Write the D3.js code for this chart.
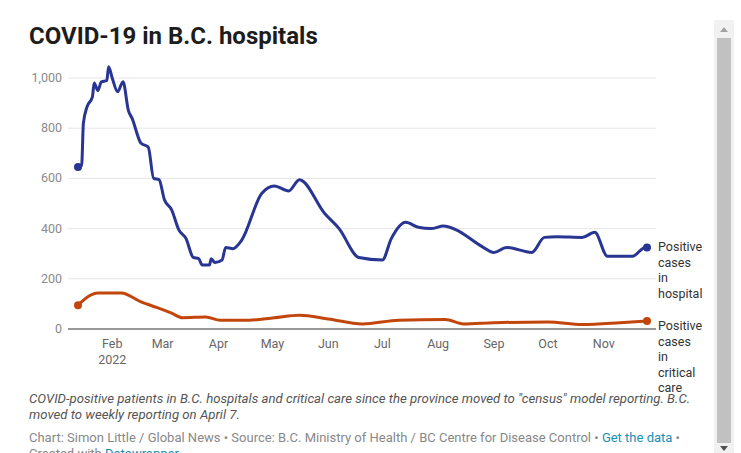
<!DOCTYPE html>
<html><head><meta charset="utf-8">
<script src="https://cdn.jsdelivr.net/npm/d3@7"></script>
<style>
body{margin:0;background:#fff;font-family:Roboto,sans-serif;overflow:hidden}
</style></head><body>
<svg id="c" width="741" height="453"></svg>
<script>
let hospDates = ["2022-01-13","2022-01-14","2022-01-15","2022-01-16","2022-01-18","2022-01-21","2022-01-22","2022-01-24","2022-01-26","2022-01-29","2022-01-30","2022-02-01","2022-02-04","2022-02-07","2022-02-10","2022-02-12","2022-02-17","2022-02-21","2022-02-24","2022-02-27","2022-03-02","2022-03-06","2022-03-10","2022-03-14","2022-03-18","2022-03-21","2022-03-23","2022-03-27","2022-03-28","2022-03-30","2022-04-03","2022-04-05","2022-04-09","2022-04-14","2022-04-25","2022-05-02","2022-05-10","2022-05-16","2022-05-30","2022-06-07","2022-06-18","2022-07-01","2022-07-06","2022-07-14","2022-07-21","2022-07-28","2022-08-04","2022-08-11","2022-08-25","2022-09-01","2022-09-08","2022-09-22","2022-09-29","2022-10-06","2022-10-20","2022-10-27","2022-11-03","2022-11-17","2022-11-24","2022-11-25"];
let hospValues = [645,650,650,820,885,925,980,950,985,990,1045,1000,945,985,870,840,740,725,600,595,515,475,395,360,285,280,255,255,280,265,275,325,320,355,540,570,550,595,460,400,285,275,360,425,405,400,410,395,330,305,325,305,365,368,365,385,290,290,325,325];
let ccDates = ["2022-01-13","2022-01-20","2022-01-24","2022-02-06","2022-02-17","2022-02-26","2022-03-06","2022-03-12","2022-03-25","2022-04-02","2022-04-18","2022-05-02","2022-05-16","2022-06-01","2022-06-20","2022-07-10","2022-08-05","2022-08-15","2022-09-01","2022-10-01","2022-10-20","2022-11-10","2022-11-25"];
let ccValues = [95,135,143,143,108,85,63,45,48,35,35,45,55,40,20,35,38,20,25,28,18,25,32];
let yTicks = [0,200,400,600,800,1000];
let monthTicks = ["2022-02-01","2022-03-01","2022-04-01","2022-05-01","2022-06-01","2022-07-01","2022-08-01","2022-09-01","2022-10-01","2022-11-01"];

let parse = d3.timeParse("%Y-%m-%d");
let hosp = hospDates.map((d,i)=>({date:parse(d),v:hospValues[i]}));
let cc = ccDates.map((d,i)=>({date:parse(d),v:ccValues[i]}));

let svg = d3.select("#c");
let plotL = 68, plotR = 656, plotT = 78, plotB = 329;
let x = d3.scaleTime().domain([parse("2022-01-13"), parse("2022-11-25")]).range([78, 647]);
let y = d3.scaleLinear().domain([0,1000]).range([plotB, plotT]);

svg.append("text").attr("x",29).attr("y",44).attr("font-size",24).attr("font-weight",700)
  .attr("fill","#1d1d1d").text("COVID-19 in B.C. hospitals");

// grid
yTicks.forEach(t => {
  if (t > 0) svg.append("line").attr("x1",plotL).attr("x2",plotR).attr("y1",y(t)).attr("y2",y(t))
    .attr("stroke","#e6e6e6");
  svg.append("text").attr("x",62).attr("y",y(t)+4).attr("text-anchor","end")
    .attr("font-size",12.5).attr("fill","#8a8a8a").text(d3.format(",")(t));
});
svg.append("line").attr("x1",plotL).attr("x2",plotR).attr("y1",plotB).attr("y2",plotB).attr("stroke","#333");

let fmt = d3.timeFormat("%b");
monthTicks.map(parse).forEach((d,i) => {
  svg.append("text").attr("x",x(d)).attr("y",348).attr("text-anchor","middle")
    .attr("font-size",12.5).attr("fill","#666").text(fmt(d));
  if (i == 0) svg.append("text").attr("x",x(d)).attr("y",364).attr("text-anchor","middle")
    .attr("font-size",12.5).attr("fill","#666").text("2022");
});

let line = d3.line().x(d=>x(d.date)).y(d=>y(d.v)).curve(d3.curveMonotoneX);
[[hosp,"#283593"],[cc,"#c2460c"]].forEach(([data,col]) => {
  svg.append("path").datum(data).attr("d",line).attr("fill","none").attr("stroke",col).attr("stroke-width",3);
  svg.append("circle").attr("cx",x(data[0].date)).attr("cy",y(data[0].v)).attr("r",4).attr("fill",col);
  let l = data[data.length-1];
  svg.append("circle").attr("cx",x(l.date)).attr("cy",y(l.v)).attr("r",4).attr("fill",col);
});

function label(lines, yy) {
  lines.forEach((s,i)=>svg.append("text").attr("x",658).attr("y",yy+i*15.5).attr("font-size",12.5)
    .attr("fill","#333").text(s));
}
label(["Positive","cases","in","hospital"], 251);
label(["Positive","cases","in","critical","care"], 330);

svg.append("text").attr("x",29).attr("y",403).attr("font-size",13.2).attr("font-style","italic").attr("fill","#555")
  .text('COVID-positive patients in B.C. hospitals and critical care since the province moved to "census" model reporting. B.C.');
svg.append("text").attr("x",29).attr("y",419).attr("font-size",13.2).attr("font-style","italic").attr("fill","#555")
  .text("moved to weekly reporting on April 7.");
let src = svg.append("text").attr("x",29).attr("y",442).attr("font-size",13).attr("fill","#888");
src.append("tspan").text("Chart: Simon Little / Global News • Source: B.C. Ministry of Health / BC Centre for Disease Control • ");
src.append("tspan").attr("fill","#1a8fb5").text("Get the data");
src.append("tspan").text(" •");
let src2 = svg.append("text").attr("x",29).attr("y",458).attr("font-size",13).attr("fill","#888");
src2.append("tspan").text("Created with ");
src2.append("tspan").attr("fill","#1a8fb5").text("Datawrapper");

// scrollbar
svg.append("rect").attr("x",714).attr("y",20).attr("width",20).attr("height",433).attr("fill","#f1f1f1");
svg.append("rect").attr("x",717).attr("y",38).attr("width",14).attr("height",405).attr("fill","#c1c1c1");
svg.append("path").attr("d","M720,32 L728,32 L724,27 Z").attr("fill","#a3a3a3");
svg.append("path").attr("d","M720,446 L728,446 L724,451 Z").attr("fill","#505050");
</script></body></html>
